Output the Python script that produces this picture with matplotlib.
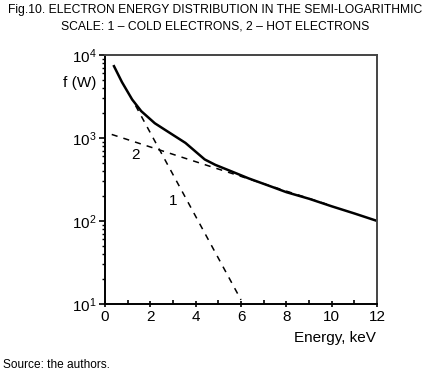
import numpy as np
import matplotlib.pyplot as plt
from matplotlib.ticker import LogLocator, MultipleLocator, NullFormatter

# measured distribution (solid curve)
energy = [0.4, 0.75, 1.2, 1.6, 2.2, 2.65, 3.55, 4.4, 4.87, 5.6, 6.34,
          7.37, 8.0, 9.0, 10.0, 11.0, 12.0]
f_meas = [7300, 4700, 2900, 2100, 1500, 1250, 870, 550, 473, 393, 325,
          257, 222, 185, 150, 123, 100]

# fitted lines: 1 - cold electrons, 2 - hot electrons
e_cold = [1.35, 6.0]
f_cold = [2450, 11.2]
e_hot = [0.3, 10.0]
f_hot = [1100, 152]

plt.rcParams['font.family'] = ['Liberation Sans', 'DejaVu Sans']

fig = plt.figure(figsize=(4.3, 3.73), dpi=100)
ax = fig.add_axes([0.244, 0.185, 0.633, 0.668])

ax.plot(energy, f_meas, color='black', lw=1.8)
ax.plot(e_cold, f_cold, color='black', lw=1.1, ls=(0, (4, 4)))
ax.plot(e_hot, f_hot, color='black', lw=1.1, ls=(0, (4, 4)))

ax.text(1.33, 620, '2', fontsize=11, ha='center', va='center')
ax.text(3.0, 175, '1', fontsize=11, ha='center', va='center')

ax.set_yscale('log')
ax.set_xlim(0, 12)
ax.set_ylim(10, 1e4)
ax.xaxis.set_major_locator(MultipleLocator(2))
ax.xaxis.set_minor_locator(MultipleLocator(1))
ax.yaxis.set_major_locator(LogLocator(base=10, numticks=10))
ax.yaxis.set_minor_locator(LogLocator(base=10, subs=np.arange(2, 10), numticks=10))
ax.yaxis.set_minor_formatter(NullFormatter())

ax.tick_params(axis='x', which='major', direction='inout', length=5, width=1.2,
               labelsize=11, pad=2)
ax.tick_params(axis='x', which='minor', direction='in', length=3, width=1.2)
ax.tick_params(axis='y', which='major', direction='out', length=4, width=1.2,
               labelsize=11, pad=2)
ax.tick_params(axis='y', which='minor', direction='out', length=2.5, width=1)

for side in ['left', 'bottom']:
    ax.spines[side].set_linewidth(1.4)
for side in ['top', 'right']:
    ax.spines[side].set_linewidth(1.4)
    ax.spines[side].set_color('#444444')

fig.text(0.186, 0.778, 'f (W)', fontsize=11, ha='center', va='center')
fig.text(0.779, 0.094, 'Energy, keV', fontsize=11, ha='center', va='center')

fig.text(0.5, 0.972, 'Fig.10. ELECTRON ENERGY DISTRIBUTION IN THE SEMI-LOGARITHMIC',
         fontsize=8.7, ha='center', va='center')
fig.text(0.5, 0.928, 'SCALE: 1 \u2013 COLD ELECTRONS, 2 \u2013 HOT ELECTRONS',
         fontsize=8.7, ha='center', va='center')
fig.text(0.007, 0.022, 'Source: the authors.', fontsize=8.6, ha='left', va='center')

fig.savefig('out.png', dpi=100)
